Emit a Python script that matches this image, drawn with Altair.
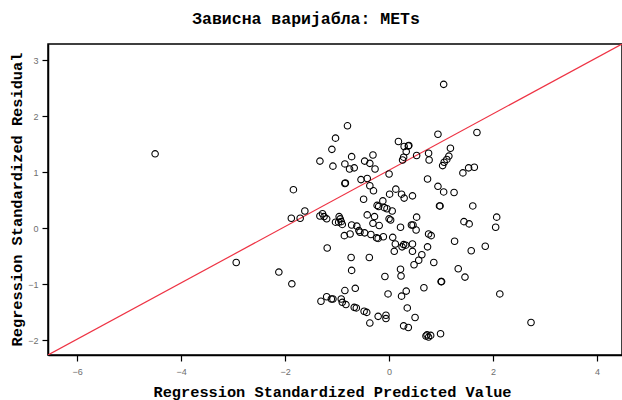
import altair as alt
import pandas as pd

# Standardized predicted values (x) and standardized residuals (y)
pred = [
    1.05, -0.80, -1.03, -1.10, -1.33, -1.08, -0.72, -0.85, -0.76, -0.67,
    -0.47, -0.37, -0.31, -0.27, -0.54, -0.42, -0.85, -0.84, -1.84, -0.37,
    -0.30, 0.00, 0.13, 0.01, 0.24, 0.29, 0.45, -0.49, -0.12, 0.18,
    0.37, 0.38, 0.29, 0.33, 0.28, 0.26, 0.53, 0.76, 0.77, 0.94,
    1.69, 1.18, 1.15, 1.11, 1.06, 1.03, 1.64, 1.53, 1.42, 0.74,
    0.94, 1.05, 1.25,
    -0.23, -0.20, -0.09, -0.04, 0.06, 0.97, 0.98, 1.61, -0.42, -0.28,
    -0.31, -0.19, 0.00, 0.03, 0.53, 0.43, 0.46, 0.22, 0.52, 2.07,
    2.05, 1.44, 1.54, -1.62, -1.88, -1.71, -1.33, -1.28, -1.25, -1.20,
    -0.96, -0.94, -0.92, -1.03, -0.97, -0.90, -0.86, -0.75, -0.72, -0.62,
    -0.58, -0.56, -0.47, -0.35, -0.24, -0.21, -0.11, 0.07, 0.12, 0.10,
    0.28, 0.32, 0.25, 0.45, 0.45, 0.63, 0.57, 0.48, 0.74, 0.76,
    0.81, 0.86, 1.26, 1.58, 1.85, 1.33, 1.46, 1.00, 1.01, 2.13,
    0.67, 0.33, 0.24, -0.02, 0.22, 0.23, -0.08, 0.35, 0.50, 0.28,
    0.37, 0.71, 0.80, 0.76, 0.73, 0.99, -2.12, -1.87, -1.19, -0.73,
    -0.38, -0.72, -0.85, -0.65, -1.31, -1.20, -1.11, -1.08, -0.92, -0.90,
    -0.83, -0.67, -0.63, -0.48, -0.43, -0.21, -0.06, -0.06, -0.37,
    -4.50, -2.94, 2.73,
]
resid = [
    2.57, 1.83, 1.61, 1.41, 1.20, 1.11, 1.28, 1.15, 1.06, 1.08,
    1.20, 1.16, 1.31, 1.06, 0.87, 0.89, 0.80, 0.81, 0.69, 0.76,
    0.67, 0.97, 0.70, 0.61, 0.61, 0.54, 0.58, 0.52, 0.49, 1.55,
    1.47, 1.48, 1.46, 1.37, 1.27, 1.22, 1.30, 1.34, 1.22, 1.68,
    1.71, 1.43, 1.29, 1.23, 1.18, 1.12, 1.09, 1.08, 0.99, 0.88,
    0.75, 0.65, 0.64,
    0.41, 0.39, 0.37, 0.35, 0.31, 0.40, 0.40, 0.40, 0.24, 0.21,
    0.09, 0.05, 0.17, 0.15, 0.20, 0.06, 0.06, 0.02, -0.03, 0.20,
    0.02, 0.12, 0.08, 0.31, 0.18, 0.18, 0.22, 0.26, 0.21, 0.17,
    0.21, 0.17, 0.12, 0.11, 0.11, 0.07, -0.13, -0.10, 0.06, 0.04,
    -0.04, -0.07, -0.08, -0.11, -0.17, -0.18, -0.15, -0.16, -0.28, -0.41,
    -0.29, -0.30, -0.33, -0.28, -0.41, -0.47, -0.57, -0.65, -0.33, -0.10,
    -0.13, -0.61, -0.23, -0.40, -0.32, -0.72, -0.87, -0.95, -0.95, -1.17,
    -1.06, -1.12, -1.21, -1.17, -0.73, -0.85, -0.86, -1.42, -1.59, -1.74,
    -1.77, -1.92, -1.91, -1.94, -1.90, -1.88, -0.78, -0.99, -0.35, -0.52,
    -0.52, -0.75, -1.11, -1.07, -1.30, -1.22, -1.26, -1.26, -1.26, -1.32,
    -1.36, -1.41, -1.42, -1.48, -1.50, -1.57, -1.55, -1.61, -1.69,
    1.33, -0.61, -1.68,
]

# Reference line endpoints and axis ranges
x_range = [-6.56, 4.48]
y_range = [-2.26, 3.29]
x_ticks = [-6, -4, -2, 0, 2, 4]
y_ticks = [-2, -1, 0, 1, 2, 3]

points = pd.DataFrame({"pred": pred, "resid": resid})
ref = pd.DataFrame({"pred": x_range, "resid": y_range})

mono = "Liberation Mono"

axis_style = dict(
    titleFont=mono, titleFontSize=15.3, titleFontWeight="bold",
    titleColor="#000", titleBaseline="alphabetic",
    labelFont="Liberation Sans", labelFontSize=9, labelColor="#6e6e6e",
    format="d",
    tickSize=6, tickColor="#000", tickWidth=1.2, tickOpacity=1,
    domainColor="#000", domainWidth=1.5, domainOpacity=1, grid=False,
)

x_enc = alt.X(
    "pred:Q",
    scale=alt.Scale(domain=x_range, nice=False, zero=False),
    axis=alt.Axis(
        values=x_ticks,
        title="Regression Standardized Predicted Value",
        titleAnchor="middle", titleX=284, titleY=41,
        labelPadding=6,
        **axis_style,
    ),
)
y_enc = alt.Y(
    "resid:Q",
    scale=alt.Scale(domain=y_range, nice=False, zero=False),
    axis=alt.Axis(
        values=y_ticks,
        title="Regression Standardized Residual",
        titleAngle=270, titleAlign="center", titleX=-27, titleY=155,
        labelPadding=4,
        **axis_style,
    ),
)

line = alt.Chart(ref).mark_line(color="#ee3344", strokeWidth=1.2, clip=True).encode(
    x=x_enc, y=y_enc
)

scatter = alt.Chart(points).mark_point(
    shape="circle", filled=False, color="#000", size=42, strokeWidth=1.1, opacity=1
).encode(x=x_enc, y=y_enc)

chart = (
    alt.layer(line, scatter)
    .properties(
        width=574,
        height=311,
        padding={"left": 48, "top": 44, "right": 0, "bottom": 45},
        autosize="none",
        background="white",
        title=alt.TitleParams(
            "Зависна варијабла: METs",
            font=mono, fontSize=16.5, fontWeight="bold", color="#000",
            anchor="middle", frame="group", dx=-29, offset=4,
            baseline="alphabetic",
        ),
    )
    .configure_view(stroke="#000", strokeWidth=1.5, strokeOpacity=1)
)

chart.save("out.html", embed_options={"renderer": "svg", "actions": False})
